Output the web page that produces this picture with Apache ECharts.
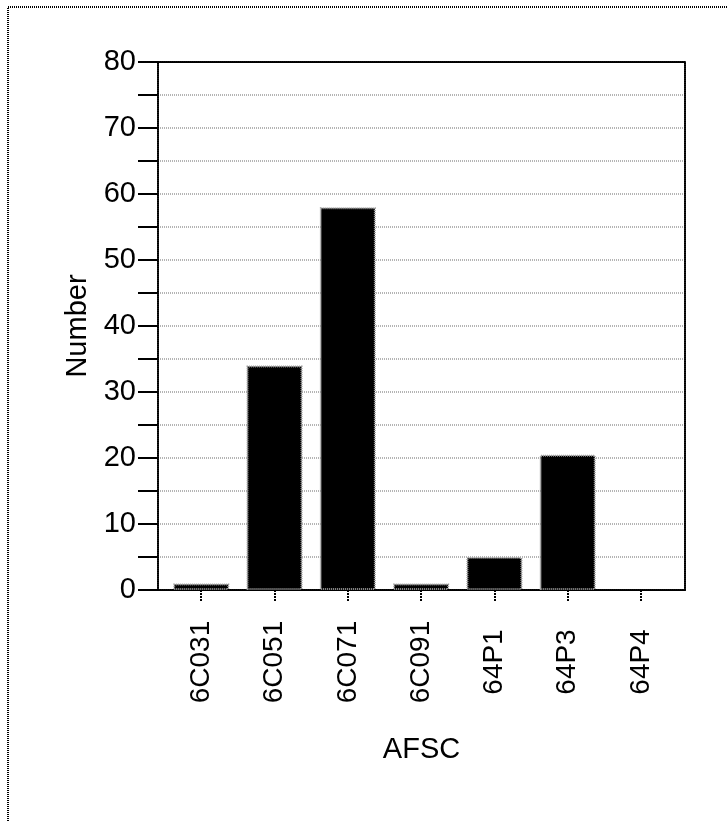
<!DOCTYPE html>
<html>
<head>
<meta charset="utf-8">
<script src="https://cdn.jsdelivr.net/npm/echarts@6/dist/echarts.min.js"></script>
<style>
html,body{margin:0;padding:0;background:#fff;}
#chart{width:728px;height:822px;}
</style>
</head>
<body>
<div id="chart"></div>
<script>
var categories = ['6C031', '6C051', '6C071', '6C091', '64P1', '64P3', '64P4'];
var counts = [1, 34, 58, 1, 5, 20.5, 0];
var yTicks = [0, 10, 20, 30, 40, 50, 60, 70, 80];

var FONT = 'Arial, "Liberation Sans", sans-serif';
var dot = [1, 1];
var positions = categories.map(function (c, i) { return i; });
var barData = counts.map(function (v, i) {
  return v > 0 ? { value: [i, v] } : { value: [i, v], itemStyle: { borderWidth: 0 } };
});

var chart = echarts.init(document.getElementById('chart'), null, { renderer: 'canvas' });
chart.setOption({
  backgroundColor: '#fff',
  animation: false,
  graphic: [{
    type: 'rect',
    shape: { x: 8, y: 7, width: 760, height: 860 },
    style: { fill: 'none', stroke: '#000', lineWidth: 2, lineDash: [1, 1] },
    silent: true
  }],
  grid: { left: 158, right: 43, top: 62, bottom: 232, containLabel: false },
  xAxis: [{
    type: 'value',
    min: -0.59,
    max: 6.6,
    position: 'bottom',
    splitLine: { show: false },
    axisLine: { show: true, onZero: false, lineStyle: { color: '#000', width: 2, type: dot } },
    axisTick: { show: true, customValues: positions, length: 12, lineStyle: { color: '#000', width: 2, type: [2, 1] } },
    axisLabel: {
      customValues: positions,
      formatter: function (v) { return categories[Math.round(v)]; },
      rotate: 90,
      align: 'center',
      verticalAlign: 'middle',
      margin: 72,
      fontSize: 28,
      color: '#000',
      fontFamily: FONT
    },
    name: 'AFSC',
    nameLocation: 'middle',
    nameGap: 145,
    nameTextStyle: { fontSize: 29, color: '#000', fontFamily: FONT }
  }, {
    type: 'value',
    min: -0.59,
    max: 6.6,
    position: 'top',
    splitLine: { show: false },
    axisLine: { show: true, onZero: false, lineStyle: { color: '#000', width: 2, type: dot } },
    axisTick: { show: false },
    axisLabel: { show: false }
  }],
  yAxis: [{
    type: 'value',
    min: 0,
    max: 80,
    interval: 10,
    position: 'left',
    axisLine: { show: true, onZero: false, lineStyle: { color: '#000', width: 2, type: dot } },
    axisTick: { show: true, length: 20, lineStyle: { color: '#000', width: 2 } },
    minorTick: { show: true, splitNumber: 2, length: 20, lineStyle: { color: '#000', width: 2 } },
    splitLine: { show: true, showMinLine: false, showMaxLine: false, lineStyle: { color: '#b4b4b4', width: 2, type: dot } },
    minorSplitLine: { show: true, lineStyle: { color: '#b4b4b4', width: 2, type: dot } },
    axisLabel: {
      margin: 22,
      fontSize: 29,
      color: '#000',
      fontFamily: FONT,
      formatter: function (v) { return yTicks.indexOf(v) >= 0 ? String(v) : ''; }
    },
    name: 'Number',
    nameLocation: 'middle',
    nameRotate: 90,
    nameGap: 58,
    nameTextStyle: { fontSize: 29, color: '#000', fontFamily: FONT }
  }, {
    type: 'value',
    min: 0,
    max: 80,
    interval: 10,
    position: 'right',
    axisLine: { show: true, onZero: false, lineStyle: { color: '#000', width: 2, type: dot } },
    axisTick: { show: false },
    splitLine: { show: false },
    axisLabel: { show: false }
  }],
  series: [{
    type: 'bar',
    xAxisIndex: 0,
    yAxisIndex: 0,
    data: barData,
    barWidth: 56,
    itemStyle: { color: '#000', borderColor: '#999', borderWidth: 2, borderType: dot },
    z: 3
  }]
});
</script>
</body>
</html>
